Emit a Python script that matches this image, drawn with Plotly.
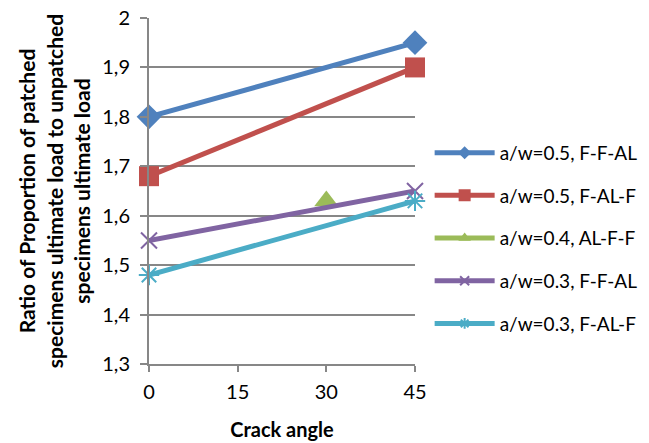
import plotly.graph_objects as go

# Crack angle (degrees) and load ratio per specimen configuration
series_names = [
    "a/w=0.5, F-F-AL",
    "a/w=0.5, F-AL-F",
    "a/w=0.4, AL-F-F",
    "a/w=0.3, F-F-AL",
    "a/w=0.3, F-AL-F",
]
x_aw05_ffal = [0, 45]
y_aw05_ffal = [1.80, 1.95]
x_aw05_falf = [0, 45]
y_aw05_falf = [1.68, 1.90]
x_aw04_alff = [30]
y_aw04_alff = [1.63]
x_aw03_ffal = [0, 45]
y_aw03_ffal = [1.55, 1.65]
x_aw03_falf = [0, 45]
y_aw03_falf = [1.48, 1.63]

y_tickvals = [1.3, 1.4, 1.5, 1.6, 1.7, 1.8, 1.9, 2.0]
y_ticktext = ["1,3", "1,4", "1,5", "1,6", "1,7", "1,8", "1,9", "2"]
x_tickvals = [0, 15, 30, 45]

FONT = "Lato, Open Sans, sans-serif"
GRID = "#878787"

colors = ["#4F81BD", "#C0504D", "#9BBB59", "#8064A2", "#4BACC6"]
symbols = ["diamond", "square", "triangle-up", "x-thin-open", "asterisk-open"]
plot_sizes = [19, 20, 21, 16, 17]
legend_sizes = [10, 12, 11, 9, 9]

xs = [x_aw05_ffal, x_aw05_falf, x_aw04_alff, x_aw03_ffal, x_aw03_falf]
ys = [y_aw05_ffal, y_aw05_falf, y_aw04_alff, y_aw03_ffal, y_aw03_falf]


def marker(i, size):
    thin = symbols[i].endswith("-open")
    return dict(color=colors[i], symbol=symbols[i], size=size,
                line=dict(width=2 if thin else 0, color=colors[i]))


fig = go.Figure()
for i, (name, x, y) in enumerate(zip(series_names, xs, ys)):
    # data trace
    fig.add_trace(go.Scatter(
        x=x, y=y, name=name, mode="lines+markers",
        line=dict(color=colors[i], width=5),
        marker=marker(i, plot_sizes[i]),
        cliponaxis=False, showlegend=False,
    ))
    # legend entry with smaller marker
    fig.add_trace(go.Scatter(
        x=[None], y=[None], name=name, mode="lines+markers",
        line=dict(color=colors[i], width=5),
        marker=marker(i, legend_sizes[i]),
        legendgroup=str(i), showlegend=True,
    ))

fig.update_layout(
    width=649, height=443,
    margin=dict(l=149, r=234, t=18, b=79, autoexpand=False),
    paper_bgcolor="white", plot_bgcolor="white",
    font=dict(family=FONT, size=19, color="black"),
    legend=dict(
        xref="container", yref="container",
        x=0.662, y=0.698, xanchor="left", yanchor="top",
        font=dict(family=FONT, size=19, color="black"),
        traceorder="grouped", tracegroupgap=15,
        itemwidth=60, bgcolor="rgba(0,0,0,0)",
    ),
    xaxis=dict(
        range=[0, 45], tickvals=x_tickvals, showgrid=False, zeroline=False,
        showline=True, linecolor=GRID, linewidth=2,
        ticks="outside", ticklen=6, tickcolor=GRID, tickwidth=2,
        tickfont=dict(size=20), ticklabelstandoff=3,
        title=dict(text="<b>Crack angle</b>", font=dict(size=20), standoff=21),
    ),
    yaxis=dict(
        range=[1.3, 2.0], tickvals=y_tickvals, ticktext=y_ticktext,
        showgrid=True, gridcolor=GRID, gridwidth=2, zeroline=False,
        showline=True, linecolor=GRID, linewidth=2,
        ticks="outside", ticklen=7, tickcolor=GRID, tickwidth=2,
        tickfont=dict(size=20), ticklabelstandoff=6,
        title=dict(
            text="<b>Ratio of Proportion of patched<br>specimens ultimate load to unpatched<br>specimens ultimate load</b>",
            font=dict(size=21), standoff=6,
        ),
    ),
)

fig.write_html("out.html")
